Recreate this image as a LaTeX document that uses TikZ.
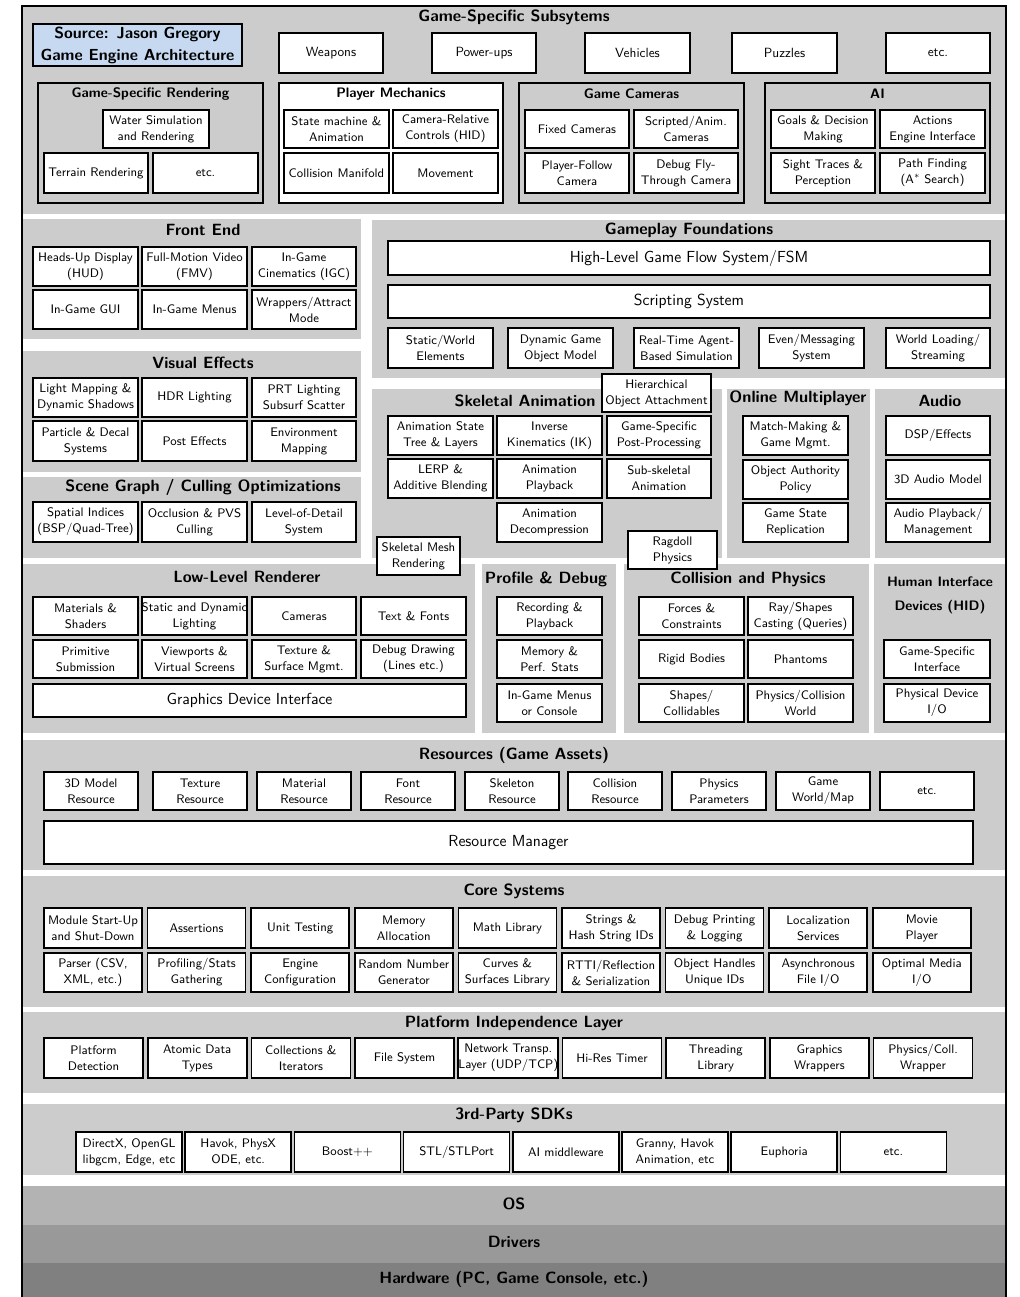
\documentclass[tikz,border=0pt]{standalone}
\usepackage{tikz}
\definecolor{panelgray}{RGB}{204,204,204}
\definecolor{osgray}{RGB}{179,179,179}
\definecolor{drvgray}{RGB}{153,153,153}
\definecolor{hwgray}{RGB}{128,128,128}
\definecolor{srcblue}{RGB}{198,217,241}
\tikzset{
 box/.style={draw, fill=white, line width=1.3pt, inner sep=0pt, align=center, font=\sffamily\fontsize{9.3}{12}\selectfont},
 bigtxt/.style={font=\sffamily\fontsize{12}{14}\selectfont},
 toptxt/.style={font=\sffamily\fontsize{10}{12}\selectfont},
 ttl/.style={inner sep=0pt, font=\sffamily\bfseries\fontsize{12.2}{14}\selectfont},
 sttl/.style={inner sep=0pt, font=\sffamily\bfseries\fontsize{10.3}{12}\selectfont},
 panel/.style={fill=panelgray},
 grp/.style={draw, line width=1.3pt},
 src/.style={fill=srcblue, font=\sffamily\bfseries\fontsize{12}{16.5}\selectfont},
}
\newcommand\bx[7][]{%
  \pgfmathsetmacro\bxw{((#5)-(#3))*0.75}%
  \pgfmathsetmacro\bxh{((#6)-(#4))*0.75}%
  \pgfmathsetmacro\bxx{((#3)+(#5))/2}%
  \pgfmathsetmacro\bxy{((#4)+(#6))/2}%
  \node[box,minimum width=\bxw pt,minimum height=\bxh pt,#1] (#2) at (\bxx,\bxy) {#7};%
}
\begin{document}
\begin{tikzpicture}[x=0.75pt,y=-0.75pt]
\useasboundingbox (0,0) rectangle (1020,1297);
% ---------- Game-Specific Subsystems ----------
\fill[panel] (23,7) rectangle (1006,214);
\node[ttl] (tGS) at (514,17) {Game-Specific Subsytems};
\bx[src]{src}{33}{24}{242}{66}{Source: Jason Gregory\\Game Engine Architecture}
\bx[toptxt]{weap}{279}{33}{383}{73}{Weapons}
\bx[toptxt]{powr}{432}{33}{536}{73}{Power-ups}
\bx[toptxt]{vehi}{585}{33}{690}{73}{Vehicles}
\bx[toptxt]{puzz}{732}{33}{837}{73}{Puzzles}
\bx[toptxt]{gsetc}{886}{33}{990}{73}{etc.}
\draw[grp,fill=panelgray] (38,83) rectangle (263,203);
\draw[grp,fill=white] (279,83) rectangle (503,203);
\draw[grp,fill=panelgray] (519,83) rectangle (744,203);
\draw[grp,fill=panelgray] (765,83) rectangle (990,203);
\node[sttl] (tGSR) at (150.5,94) {Game-Specific Rendering};
\node[sttl] (tPM) at (391,94) {Player Mechanics};
\node[sttl] (tGC) at (631.5,94) {Game Cameras};
\node[sttl] (tAI) at (877.5,94) {AI};
\bx{water}{103}{110}{209}{148}{Water Simulation\\and Rendering}
\bx{terr}{44}{153}{148}{193}{Terrain Rendering}
\bx{gsretc}{153}{153}{258}{193}{etc.}
\bx{statem}{284}{110}{389}{148}{State machine \&\\Animation}
\bx{camrel}{393}{110}{498}{148}{Camera-Relative\\Controls (HID)}
\bx{colman}{284}{153}{389}{193}{Collision Manifold}
\bx{movem}{393}{153}{498}{193}{Movement}
\bx{fixcam}{525}{110}{629}{148}{Fixed Cameras}
\bx{scrcam}{634}{110}{738}{148}{Scripted/Anim.\\Cameras}
\bx{plfcam}{525}{153}{629}{193}{Player-Follow\\Camera}
\bx{dbgcam}{634}{153}{738}{193}{Debug Fly-\\Through Camera}
\bx{goals}{771}{110}{875}{148}{Goals \& Decision\\Making}
\bx{actions}{880}{110}{985}{148}{Actions\\Engine Interface}
\bx{sight}{771}{153}{875}{193}{Sight Traces \&\\Perception}
\bx{pathf}{880}{153}{985}{193}{Path Finding\\(A$^*$ Search)}
% ---------- Front End ----------
\fill[panel] (23,219) rectangle (361,339);
\node[ttl] (tFE) at (203,230) {Front End};
\bx{hud}{33}{247}{138}{286}{Heads-Up Display\\(HUD)}
\bx{fmv}{142}{247}{247}{286}{Full-Motion Video\\(FMV)}
\bx{igc}{252}{247}{356}{286}{In-Game\\Cinematics (IGC)}
\bx{gui}{33}{290}{138}{329}{In-Game GUI}
\bx{menus}{142}{290}{247}{329}{In-Game Menus}
\bx{wrap}{252}{290}{356}{329}{Wrappers/Attract\\Mode}
% ---------- Visual Effects ----------
\fill[panel] (23,351) rectangle (361,472);
\node[ttl] (tVE) at (203,363) {Visual Effects};
\bx{lightmap}{33}{378}{138}{417}{Light Mapping \&\\Dynamic Shadows}
\bx{hdr}{142}{378}{247}{417}{HDR Lighting}
\bx{prt}{252}{378}{356}{417}{PRT Lighting\\Subsurf Scatter}
\bx{particle}{33}{421}{138}{461}{Particle \& Decal\\Systems}
\bx{post}{142}{421}{247}{461}{Post Effects}
\bx{envmap}{252}{421}{356}{461}{Environment\\Mapping}
% ---------- Scene Graph ----------
\fill[panel] (23,477) rectangle (361,558);
\node[ttl] (tSG) at (203,487) {Scene Graph / Culling Optimizations};
\bx{spatial}{33}{502}{138}{542}{Spatial Indices\\(BSP/Quad-Tree)}
\bx{occl}{142}{502}{247}{542}{Occlusion \& PVS\\Culling}
\bx{lod}{252}{502}{356}{542}{Level-of-Detail\\System}
% ---------- Gameplay Foundations ----------
\fill[panel] (372,220) rectangle (1006,378);
\node[ttl] (tGF) at (689,230) {Gameplay Foundations};
\bx[bigtxt]{hlgf}{388}{241}{990}{275}{High-Level Game Flow System/FSM}
\bx[bigtxt]{script}{388}{285}{990}{318}{Scripting System}
\bx{staticw}{388}{328}{493}{368}{Static/World\\Elements}
\bx{dyngo}{508}{328}{613}{368}{Dynamic Game\\Object Model}
\bx{rtagent}{634}{328}{739}{368}{Real-Time Agent-\\Based Simulation}
\bx{evmsg}{759}{328}{864}{368}{Even/Messaging\\System}
\bx{worldld}{886}{328}{990}{368}{World Loading/\\Streaming}
% ---------- Skeletal Animation ----------
\fill[panel] (372,389) rectangle (722,558);
\node[ttl] (tSA) at (525,401) {Skeletal Animation};
\bx{hier}{602}{374}{711}{412}{Hierarchical\\Object Attachment}
\bx{animst}{388}{416}{493}{455}{Animation State\\Tree \& Layers}
\bx{ik}{497}{416}{602}{455}{Inverse\\Kinematics (IK)}
\bx{gspost}{607}{416}{711}{455}{Game-Specific\\Post-Processing}
\bx{lerp}{388}{459}{493}{498}{LERP \&\\Additive Blending}
\bx{animpb}{497}{459}{602}{498}{Animation\\Playback}
\bx{subskel}{607}{459}{711}{498}{Sub-skeletal\\Animation}
\bx{animdec}{497}{503}{602}{542}{Animation\\Decompression}
% ---------- Online Multiplayer ----------
\fill[panel] (727,389) rectangle (870,558);
\node[ttl] (tOM) at (798,398) {Online Multiplayer};
\bx{match}{743}{416}{848}{455}{Match-Making \&\\Game Mgmt.}
\bx{objauth}{743}{460}{848}{499}{Object Authority\\Policy}
\bx{gsrepl}{743}{503}{848}{542}{Game State\\Replication}
% ---------- Audio ----------
\fill[panel] (875,389) rectangle (1006,558);
\node[ttl] (tAU) at (940,401) {Audio};
\bx{dsp}{886}{416}{990}{455}{DSP/Effects}
\bx{audio3d}{886}{460}{990}{499}{3D Audio Model}
\bx{audiopb}{886}{503}{990}{542}{Audio Playback/\\Management}
% ---------- Low-Level Renderer ----------
\fill[panel] (23,564) rectangle (475,733);
\node[ttl] (tLL) at (247,577) {Low-Level Renderer};
\bx{matsh}{33}{597}{138}{635}{Materials \&\\Shaders}
\bx{sdlight}{142}{597}{247}{635}{Static and Dynamic\\Lighting}
\bx{cams}{252}{597}{356}{635}{Cameras}
\bx{textf}{361}{597}{466}{635}{Text \& Fonts}
\bx{prim}{33}{640}{138}{678}{Primitive\\Submission}
\bx{viewp}{142}{640}{247}{678}{Viewports \&\\Virtual Screens}
\bx{texsurf}{252}{640}{356}{678}{Texture \&\\Surface Mgmt.}
\bx{dbgdraw}{361}{640}{466}{678}{Debug Drawing\\(Lines etc.)}
\bx[bigtxt]{gdi}{33}{684}{466}{717}{Graphics Device Interface}
% ---------- Profile & Debug ----------
\fill[panel] (482,564) rectangle (616,733);
\node[ttl] (tPD) at (546,579) {Profile \& Debug};
\bx{recpb}{497}{597}{602}{635}{Recording \&\\Playback}
\bx{memperf}{497}{640}{602}{678}{Memory \&\\Perf. Stats}
\bx{igmenus}{497}{684}{602}{722}{In-Game Menus\\or Console}
% ---------- Collision and Physics ----------
\fill[panel] (624,564) rectangle (869,733);
\node[ttl] (tCP) at (748,579) {Collision and Physics};
\bx{forces}{639}{597}{744}{635}{Forces \&\\Constraints}
\bx{raycast}{748}{597}{853}{635}{Ray/Shapes\\Casting (Queries)}
\bx{rigid}{639}{640}{744}{678}{Rigid Bodies}
\bx{phantoms}{748}{640}{853}{678}{Phantoms}
\bx{shapes}{639}{684}{744}{722}{Shapes/\\Collidables}
\bx{physworld}{748}{684}{853}{722}{Physics/Collision\\World}
% ---------- HID ----------
\fill[panel] (874,564) rectangle (1006,733);
\node[sttl] (tHID1) at (940,582) {Human Interface};
\node[sttl] (tHID2) at (940,607) {Devices (HID)};
\bx{gsiface}{884}{640}{990}{678}{Game-Specific\\Interface}
\bx{physdev}{884}{684}{990}{722}{Physical Device\\I/O}
% overlapping boxes
\bx{skmesh}{377}{537}{460}{575}{Skeletal Mesh\\Rendering}
\bx{ragdoll}{628}{531}{717}{569}{Ragdoll\\Physics}
% ---------- Resources ----------
\fill[panel] (23,740) rectangle (1006,870);
\node[ttl] (tRES) at (514,755) {Resources (Game Assets)};
\foreach \xa/\t [count=\i] in {44/{3D Model\\Resource},153/{Texture\\Resource},257/{Material\\Resource},361/{Font\\Resource},465/{Skeleton\\Resource},568/{Collision\\Resource},672/{Physics\\Parameters},776/{Game\\World/Map},880/{etc.}}
  {\bx{res\i}{\xa}{772}{\xa+94}{810}{\t}}
\bx[bigtxt]{resmgr}{44}{821}{973}{864}{Resource Manager}
% ---------- Core Systems ----------
\fill[panel] (23,876) rectangle (1006,1007);
\node[ttl] (tCORE) at (514,891) {Core Systems};
\foreach \t [count=\i] in {{Module Start-Up\\and Shut-Down},{Assertions},{Unit Testing},{Memory\\Allocation},{Math Library},{Strings \&\\Hash String IDs},{Debug Printing\\\& Logging},{Localization\\Services},{Movie\\Player}}
  {\bx{coreA\i}{44+(\i-1)*103.6}{908}{44+(\i-1)*103.6+98}{948}{\t}}
\foreach \t [count=\i] in {{Parser (CSV,\\XML, etc.)},{Profiling/Stats\\Gathering},{Engine\\Configuration},{Random Number\\Generator},{Curves \&\\Surfaces Library},{RTTI/Reflection\\\& Serialization},{Object Handles\\Unique IDs},{Asynchronous\\File I/O},{Optimal Media\\I/O}}
  {\bx{coreB\i}{44+(\i-1)*103.6}{953}{44+(\i-1)*103.6+98}{992}{\t}}
% ---------- Platform Independence Layer ----------
\fill[panel] (23,1012) rectangle (1006,1093);
\node[ttl] (tPIL) at (514,1023) {Platform Independence Layer};
\foreach \t [count=\i] in {{Platform\\Detection},{Atomic Data\\Types},{Collections \&\\Iterators},{File System},{Network Transp.\\Layer (UDP/TCP)},{Hi-Res Timer},{Threading\\Library},{Graphics\\Wrappers},{Physics/Coll.\\Wrapper}}
  {\bx{pil\i}{44+(\i-1)*103.7}{1038}{44+(\i-1)*103.7+99}{1078}{\t}}
% ---------- 3rd-Party SDKs ----------
\fill[panel] (23,1104) rectangle (1006,1175);
\node[ttl] (tSDK) at (514,1115) {3rd-Party SDKs};
\foreach \t [count=\i] in {{DirectX, OpenGL\\libgcm, Edge, etc},{Havok, PhysX\\ODE, etc.},{Boost++},{STL/STLPort},{AI middleware},{Granny, Havok\\Animation, etc},{Euphoria},{etc.}}
  {\bx{sdk\i}{76+(\i-1)*109.2}{1132}{76+(\i-1)*109.2+106}{1172}{\t}}
% ---------- OS / Drivers / Hardware ----------
\fill[osgray] (23,1186) rectangle (1006,1225);
\fill[drvgray] (23,1225) rectangle (1006,1263);
\fill[hwgray] (23,1263) rectangle (1006,1300);
\node[ttl] (tOS) at (514,1204) {OS};
\node[ttl] (tDRV) at (514,1242) {Drivers};
\node[ttl] (tHW) at (514,1279) {Hardware (PC, Game Console, etc.)};
% ---------- outer frame ----------
\draw[line width=1.5pt] (22,6) rectangle (1006,1300);
\end{tikzpicture}
\end{document}
